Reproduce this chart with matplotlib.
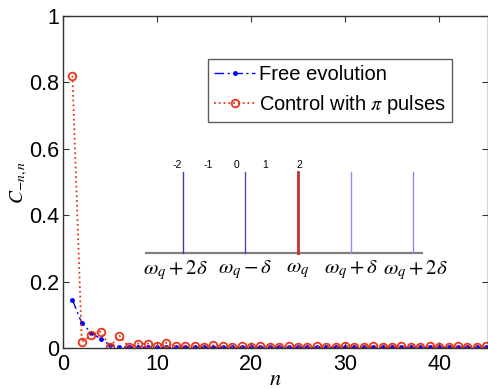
import matplotlib
matplotlib.use("Agg")
import matplotlib.pyplot as plt
import numpy as np

# Overlap coefficients C_{-n,n} versus n
n = list(range(1, 46))
free_evolution = [0.145, 0.075, 0.046, 0.027, 0.009, 0.003, 0.002, 0.002, 0.002, 0.002,
                  0.002, 0.002, 0.002, 0.002, 0.002, 0.002, 0.002, 0.002, 0.002, 0.002,
                  0.002, 0.002, 0.002, 0.002, 0.002, 0.002, 0.002, 0.002, 0.002, 0.002,
                  0.002, 0.002, 0.002, 0.002, 0.002, 0.002, 0.002, 0.002, 0.002, 0.002,
                  0.002, 0.002, 0.002, 0.002, 0.002]
control_pulses = [0.82, 0.017, 0.039, 0.049, 0.004, 0.037, 0.003, 0.013, 0.013, 0.006,
                  0.016, 0.005, 0.007, 0.005, 0.004, 0.008, 0.005, 0.003, 0.005, 0.004,
                  0.005, 0.004, 0.004, 0.005, 0.004, 0.004, 0.005, 0.004, 0.004, 0.005,
                  0.004, 0.004, 0.005, 0.004, 0.004, 0.005, 0.004, 0.004, 0.005, 0.004,
                  0.004, 0.005, 0.004, 0.004, 0.005]

x_ticks = [0, 10, 20, 30, 40]
y_ticks = [0, 0.2, 0.4, 0.6, 0.8, 1]
y_tick_labels = ["0", "0.2", "0.4", "0.6", "0.8", "1"]

# Spectrum schematic
level_labels = ["-2", "-1", "0", "1", "2"]
freq_labels = [r"$\omega_q+2\delta$", r"$\omega_q-\delta$", r"$\omega_q$",
               r"$\omega_q+\delta$", r"$\omega_q+2\delta$"]

plt.rcParams["font.family"] = ["Liberation Sans", "DejaVu Sans"]
plt.rcParams["mathtext.fontset"] = "stix"

W, H = 489, 389
fig = plt.figure(figsize=(W / 100, H / 100), dpi=100)
ax = fig.add_axes([63 / W, 1 - 348 / H, 425 / W, 332 / H])

ax.plot(n, free_evolution, color="blue", marker=".", dashes=(7, 2.5, 1.5, 2.5),
        markersize=5, linewidth=1.0, label="Free evolution")
ax.plot(n, control_pulses, linestyle=":", color="#e8361a", marker="o",
        markersize=5.5, markerfacecolor="none", markeredgewidth=1.3,
        linewidth=1.3, label=r"Control with $\pi$ pulses")

ax.set_xlim(0, 45.2)
ax.set_ylim(0, 1)
ax.set_xticks(x_ticks)
ax.set_yticks(y_ticks)
ax.set_yticklabels(y_tick_labels)
ax.tick_params(direction="in", top=True, right=True, labelsize=15.5,
               length=4, width=0.8, color="#333333")
ax.tick_params(axis="x", pad=4)
ax.tick_params(axis="y", pad=3)
for s in ax.spines.values():
    s.set_color("#333333")
    s.set_linewidth(1.0)

ax.set_xlabel(r"$n$", fontsize=16, labelpad=-4)
ax.set_ylabel(r"$C_{-n,n}$", fontsize=14, labelpad=-1)

leg = ax.legend(loc="upper right", bbox_to_anchor=(0.915, 0.870), fontsize=14.5,
                frameon=True, fancybox=False, borderpad=0.3, labelspacing=0.45,
                handlelength=2.0, handletextpad=0.2, borderaxespad=0)
leg.get_frame().set_edgecolor("#333333")
leg.get_frame().set_linewidth(1.0)

# Inset schematic, drawn in figure pixel units
ins = fig.add_axes([0, 0, 1, 1], facecolor="none")
ins.set_xlim(0, W)
ins.set_ylim(H, 0)
ins.axis("off")

line_x = [183, 245, 298, 351, 413]
line_colors = ["#3a3ab0", "#4a4ab8", "#c83030", "#8a8aff", "#8a8aff"]
line_widths = [1.0, 1.0, 2.0, 1.0, 1.0]
label_x = [177, 208, 237, 265, 299]
freq_x = [175, 245, 298, 351, 415]

ins.plot([146, 422], [253, 253], color="#808080", linewidth=1.6)
for xx, c, lw in zip(line_x, line_colors, line_widths):
    ins.plot([xx, xx], [172, 253], color=c, linewidth=lw)
for xx, t in zip(label_x, level_labels):
    ins.text(xx, 165, t, fontsize=7.5, ha="center", va="center")
for xx, t in zip(freq_x, freq_labels):
    ins.text(xx, 270, t, fontsize=15, ha="center", va="center")

fig.savefig("out.png", dpi=100)
